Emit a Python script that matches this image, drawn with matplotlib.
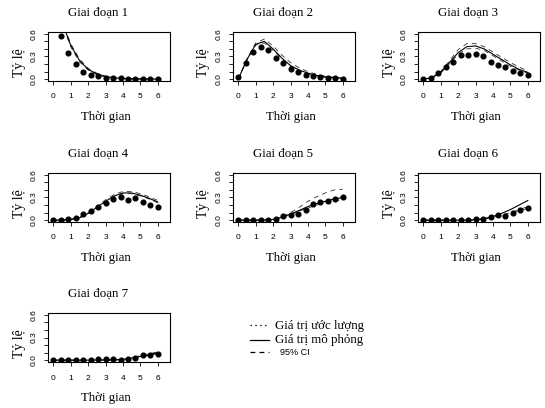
import matplotlib
matplotlib.use("Agg")
import matplotlib.pyplot as plt
from matplotlib.lines import Line2D

plt.rcParams['lines.scale_dashes'] = False

# ---------------- data ----------------
titles = ["Giai đoạn 1", "Giai đoạn 2", "Giai đoạn 3", "Giai đoạn 4",
          "Giai đoạn 5", "Giai đoạn 6", "Giai đoạn 7"]
xlabel = "Thời gian"
ylabel = "Tỷ lệ"
legend_labels = ["Giá trị ước lượng", "Giá trị mô phỏng", "95% CI"]

t_dots = [0, 0.43, 0.86, 1.29, 1.71, 2.14, 2.57, 3.0, 3.43, 3.86, 4.29, 4.71, 5.14, 5.57, 6.0]
t_line = [0, 0.5, 1.0, 1.5, 2.0, 2.5, 3.0, 3.5, 4.0, 4.5, 5.0, 5.5, 6.0]

est1 = [0.95, 0.57, 0.34, 0.20, 0.10, 0.05, 0.04, 0.01, 0.01, 0.01, 0.005, 0.003, 0.002, 0.001, 0.0]
est2 = [0.03, 0.215, 0.36, 0.42, 0.38, 0.28, 0.215, 0.133, 0.09, 0.056, 0.043, 0.03, 0.017, 0.01, 0.006]
est3 = [0.005, 0.017, 0.08, 0.16, 0.23, 0.32, 0.32, 0.335, 0.305, 0.23, 0.19, 0.155, 0.107, 0.086, 0.06]
est4 = [0.005, 0.005, 0.013, 0.03, 0.08, 0.12, 0.176, 0.227, 0.283, 0.31, 0.27, 0.287, 0.244, 0.197, 0.176]
est5 = [0.0, 0.0, 0.0, 0.0, 0.0, 0.02, 0.06, 0.07, 0.086, 0.14, 0.21, 0.235, 0.257, 0.283, 0.30]
est6 = [0.0, 0.0, 0.0, 0.0, 0.0, 0.0, 0.0, 0.01, 0.015, 0.045, 0.07, 0.06, 0.095, 0.13, 0.16]
est7 = [0.0, 0.0, 0.0, 0.0, 0.0, 0.005, 0.02, 0.01, 0.01, 0.005, 0.02, 0.03, 0.065, 0.07, 0.085]

sim1 = [1.0, 0.76, 0.45, 0.25, 0.13, 0.07, 0.035, 0.018, 0.009, 0.005, 0.003, 0.002, 0.001]
up1 = [1.0, 0.78, 0.47, 0.27, 0.145, 0.08, 0.04, 0.02, 0.01, 0.006, 0.004, 0.002, 0.001]
lo1 = [1.0, 0.74, 0.43, 0.23, 0.12, 0.06, 0.03, 0.015, 0.008, 0.004, 0.002, 0.001, 0.0]

sim2 = [0.0, 0.26, 0.46, 0.50, 0.40, 0.28, 0.18, 0.12, 0.08, 0.05, 0.03, 0.02, 0.01]
up2 = [0.0, 0.27, 0.48, 0.53, 0.44, 0.32, 0.22, 0.15, 0.10, 0.065, 0.04, 0.025, 0.015]
lo2 = [0.0, 0.25, 0.45, 0.48, 0.38, 0.27, 0.17, 0.11, 0.07, 0.045, 0.025, 0.015, 0.008]

sim3 = [0.0, 0.02, 0.09, 0.22, 0.35, 0.43, 0.44, 0.40, 0.33, 0.26, 0.19, 0.13, 0.09]
up3 = [0.0, 0.02, 0.10, 0.24, 0.39, 0.47, 0.47, 0.43, 0.36, 0.29, 0.22, 0.16, 0.11]
lo3 = [0.0, 0.02, 0.08, 0.20, 0.33, 0.40, 0.41, 0.38, 0.31, 0.24, 0.17, 0.12, 0.08]

sim4 = [0.0, 0.0, 0.01, 0.03, 0.09, 0.17, 0.25, 0.32, 0.36, 0.36, 0.33, 0.29, 0.24]
up4 = [0.0, 0.0, 0.01, 0.035, 0.10, 0.18, 0.27, 0.34, 0.38, 0.38, 0.35, 0.31, 0.26]
lo4 = [0.0, 0.0, 0.01, 0.03, 0.085, 0.16, 0.24, 0.31, 0.35, 0.35, 0.32, 0.28, 0.23]

sim5 = [0.0, 0.0, 0.0, 0.003, 0.01, 0.04, 0.08, 0.13, 0.18, 0.22, 0.25, 0.28, 0.30]
up5 = [0.0, 0.0, 0.0, 0.003, 0.012, 0.045, 0.10, 0.17, 0.25, 0.31, 0.36, 0.40, 0.41]
lo5 = [0.0, 0.0, 0.0, 0.002, 0.008, 0.035, 0.07, 0.12, 0.16, 0.20, 0.23, 0.26, 0.27]

sim6 = [0.0, 0.0, 0.0, 0.0, 0.0, 0.0, 0.005, 0.02, 0.05, 0.09, 0.14, 0.20, 0.26]
up6 = [0.0, 0.0, 0.0, 0.0, 0.0, 0.0, 0.005, 0.02, 0.045, 0.07, 0.10, 0.14, 0.18]
lo6 = [0.0, 0.0, 0.0, 0.0, 0.0, 0.0, 0.004, 0.015, 0.04, 0.06, 0.09, 0.12, 0.16]

sim7 = [0.0, 0.0, 0.0, 0.0, 0.0, 0.002, 0.003, 0.004, 0.01, 0.03, 0.05, 0.07, 0.10]
up7 = [0.0, 0.0, 0.0, 0.0, 0.0, 0.002, 0.004, 0.005, 0.012, 0.035, 0.06, 0.085, 0.11]
lo7 = [0.0, 0.0, 0.0, 0.0, 0.0, 0.001, 0.002, 0.003, 0.008, 0.025, 0.045, 0.065, 0.085]

estimates = [est1, est2, est3, est4, est5, est6, est7]
simulated = [sim1, sim2, sim3, sim4, sim5, sim6, sim7]
upper = [up1, up2, up3, up4, up5, up6, up7]
lower = [lo1, lo2, lo3, lo4, lo5, lo6, lo7]

x_ticks = [0, 1, 2, 3, 4, 5, 6]
y_ticks = [0.0, 0.1, 0.2, 0.3, 0.4, 0.5, 0.6]
y_ticklabels = ["0.0", "", "", "0.3", "", "", "0.6"]

# ---------------- layout ----------------
W, H = 545, 408
fig = plt.figure(figsize=(W / 100, H / 100), dpi=100)

col_left = [48, 233, 418]
row_top = [32, 173, 313]
aw, ah = 122, 49

serif = ["Liberation Serif", "DejaVu Serif"]
sans = ["Liberation Sans", "DejaVu Sans"]
DASH = (0, (3.5, 3.0))

for i in range(7):
    r, c = divmod(i, 3)
    L, T = col_left[c], row_top[r]
    ax = fig.add_axes([L / W, 1 - (T + ah) / H, aw / W, ah / H])
    ax.plot(t_line, lower[i], color="#222222", lw=0.55, linestyle=DASH)
    ax.plot(t_line, upper[i], color="#222222", lw=0.55, linestyle=DASH)
    ax.plot(t_line, simulated[i], color="black", lw=0.8, linestyle="-")
    ax.plot(t_dots, estimates[i], linestyle="none", marker="o", color="black",
            markersize=3.4)
    ax.set_xlim(-0.3, 6.7)
    ax.set_ylim(-0.024, 0.624)
    ax.set_xticks(x_ticks)
    ax.set_xticklabels([str(v) for v in x_ticks], fontfamily=sans, fontsize=6)
    ax.set_yticks(y_ticks)
    ax.set_yticklabels(y_ticklabels, fontfamily=sans, fontsize=6,
                       rotation=90, va="center")
    ax.tick_params(axis="x", length=3, width=0.6, pad=6)
    ax.tick_params(axis="y", length=3, width=0.6, pad=4.5)
    for s in ax.spines.values():
        s.set_linewidth(0.8)
    # title, axis labels
    fig.text((L + 50) / W, 1 - (T - 19) / H, titles[i], ha="center", va="center",
             fontfamily=serif, fontsize=9.3)
    fig.text((L + aw / 2 - 3) / W, 1 - (T + ah + 36) / H, xlabel, ha="center",
             va="center", fontfamily=serif, fontsize=9.3)
    fig.text((L - 29) / W, 1 - (T + 31) / H, ylabel, ha="center", va="center",
             rotation=90, fontfamily=serif, fontsize=10)

# ---------------- legend ----------------
leg_y = [325, 339.5, 351.5]
styles = [(0, (1.0, 2.5)), "-", DASH]
for k in range(3):
    yy = 1 - leg_y[k] / H
    fig.add_artist(Line2D([250 / W, 269 / W], [yy, yy], transform=fig.transFigure,
                          color="black", lw=0.9, linestyle=styles[k]))
fig.text(275 / W, 1 - 326 / H, legend_labels[0], ha="left", va="center",
         fontfamily=serif, fontsize=9.3)
fig.text(275 / W, 1 - 340.5 / H, legend_labels[1], ha="left", va="center",
         fontfamily=serif, fontsize=9.3)
fig.text(280 / W, 1 - 352.5 / H, legend_labels[2], ha="left", va="center",
         fontfamily=sans, fontsize=6.5)

fig.savefig("out.png", dpi=100)
